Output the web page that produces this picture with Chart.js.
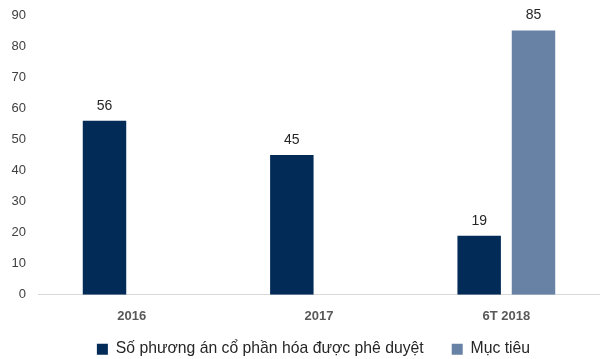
<!DOCTYPE html>
<html>
<head>
<meta charset="utf-8">
<script src="https://cdn.jsdelivr.net/npm/chart.js@4"></script>
<style>
  html, body { margin: 0; padding: 0; background: #fff; }
  #wrap { width: 600px; height: 359px; }
</style>
</head>
<body>
<div id="wrap"><canvas id="bar-chart"></canvas></div>
<script>
const categories = ['2016', '2017', '6T 2018'];
const approved = [56, 45, 19];
const target = [null, null, 85];
const seriesNames = ['Số phương án cổ phần hóa được phê duyệt', 'Mục tiêu'];

// draws the value on top of each bar
const valueLabels = {
  id: 'valueLabels',
  afterDatasetsDraw(chart) {
    const ctx = chart.ctx;
    ctx.save();
    ctx.font = '14px "Liberation Sans", Arial, sans-serif';
    ctx.fillStyle = '#262626';
    ctx.textAlign = 'center';
    ctx.textBaseline = 'bottom';
    chart.data.datasets.forEach((ds, i) => {
      chart.getDatasetMeta(i).data.forEach((bar, j) => {
        if (ds.data[j] == null) return;
        ctx.fillText(ds.data[j], bar.x, bar.y - 8);
      });
    });
    ctx.restore();
  }
};

const mychart = new Chart(document.getElementById('bar-chart'), {
  type: 'bar',
  data: {
    labels: categories,
    datasets: [
      {
        label: seriesNames[0],
        data: approved,
        backgroundColor: '#022b57',
        categoryPercentage: 0.58,
        barPercentage: 0.8,
      },
      {
        label: seriesNames[1],
        data: target,
        backgroundColor: '#6782a5',
        categoryPercentage: 0.58,
        barPercentage: 0.8,
      },
    ],
  },
  options: {
    responsive: true,
    maintainAspectRatio: false,
    animation: false,
    // left padding pushes the legend right; the y axis is narrowed to match
    layout: { padding: { top: 15, right: 0, left: 27, bottom: -8 } },
    scales: {
      x: {
        afterFit(scale) {
          scale.height = 18.5;
          // labels sit below the (shortened) scale box, so don't clip them
          scale._computeLabelArea = () => undefined;
        },
        grid: { display: false, drawTicks: false },
        border: { color: '#d9d9d9', width: 1 },
        ticks: {
          color: '#595959',
          padding: 14,
          font: { family: '"Liberation Sans", Arial, sans-serif', size: 13, weight: 'bold' },
        },
      },
      y: {
        min: 0,
        max: 90,
        afterFit(scale) {
          scale.width = 11;
          scale.paddingTop = 0;
          scale.paddingBottom = 0;
          scale._computeLabelArea = () => undefined;
        },
        grid: { display: false, drawTicks: false },
        border: { display: false },
        ticks: {
          stepSize: 10,
          color: '#404040',
          padding: 12,
          font: { family: '"Liberation Sans", Arial, sans-serif', size: 13 },
        },
      },
    },
    plugins: {
      legend: {
        position: 'bottom',
        labels: {
          boxWidth: 11,
          boxHeight: 11,
          padding: 28,
          color: '#262626',
          font: { family: '"Liberation Sans", Arial, sans-serif', size: 15.75 },
        },
      },
      tooltip: { enabled: false },
    },
  },
  plugins: [valueLabels],
});
</script>
</body>
</html>
